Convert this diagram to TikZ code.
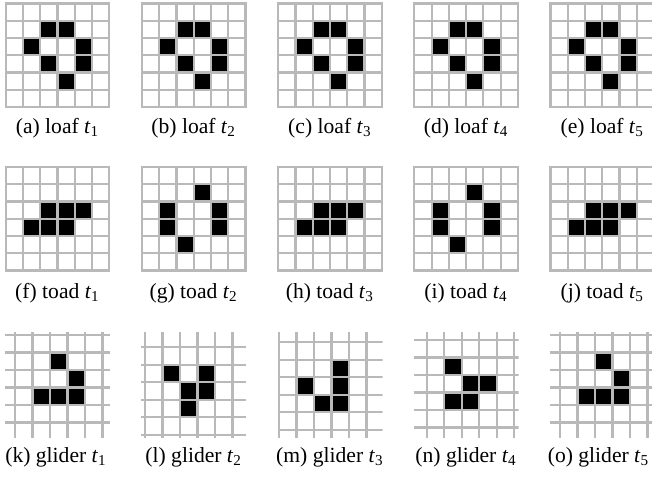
\documentclass[tikz,border=0pt]{standalone}
\usepackage{fontspec}
\setmainfont{Liberation Serif}
\newcommand\tsb[1]{\textit{t}\textsubscript{#1}}
\begin{document}
\begin{tikzpicture}[x=0.5pt,y=-0.5pt,
  gridline/.style={draw=gray!55, line width=1.1pt},
  alive/.style={fill=black},
  capt/.style={anchor=base, inner sep=0pt, font=\fontsize{10.8}{13}\selectfont}]
\useasboundingbox (0,0) rectangle (652,477);
\def\cs{17.25}
\def\gs{17.5}
\newcommand\boxgrid[3]{%
  \foreach \c/\r in {#3} \fill[alive] ({#1+\c*\cs},{#2+\r*\cs}) rectangle ++(\cs,\cs);
  \foreach \k in {1,...,5} {
    \draw[gridline] ({#1+\k*\cs},#2) -- ++(0,{6*\cs});
    \draw[gridline] (#1,{#2+\k*\cs}) -- ++({6*\cs},0);
  }
  \draw[gridline] (#1,#2) rectangle ++({6*\cs},{6*\cs});
}
\newcommand\opengrid[5]{%
  \begin{scope}
    \clip (#1,#2) rectangle ++(105,106);
    \foreach \c/\r in {#5} \fill[alive] ({#3+\c*\gs},{#4+\r*\gs}) rectangle ++(\gs,\gs);
    \foreach \k in {-1,...,6} {
      \draw[gridline] ({#3+\k*\gs},#2) -- ++(0,106);
      \draw[gridline] (#1,{#4+\k*\gs}) -- ++(105,0);
    }
  \end{scope}
}
% row 1: loaf
\foreach \i in {0,...,4} {
  \boxgrid{5.75+136.2*\i}{3.5}{2/1,3/1,1/2,4/2,2/3,4/3,3/4}
}
% row 2: toad
\boxgrid{5.75}{167}{2/2,3/2,4/2,1/3,2/3,3/3}
\boxgrid{141.95}{167}{3/1,1/2,4/2,1/3,4/3,2/4}
\boxgrid{278.15}{167}{2/2,3/2,4/2,1/3,2/3,3/3}
\boxgrid{414.35}{167}{3/1,1/2,4/2,1/3,4/3,2/4}
\boxgrid{550.55}{167}{2/2,3/2,4/2,1/3,2/3,3/3}
% row 3: glider
\opengrid{5}{332}{15}{335}{2/1,3/2,1/3,2/3,3/3}
\opengrid{141.2}{332}{145}{347.3}{1/1,3/1,2/2,3/2,2/3}
\opengrid{277.5}{332}{279}{342.3}{3/1,1/2,3/2,2/3,3/3}
\opengrid{413.7}{332}{426.7}{340}{1/1,2/2,3/2,1/3,2/3}
\opengrid{550}{332}{560}{335}{2/1,3/2,1/3,2/3,3/3}
% captions
\node[capt] (ca) at (57.5,133) {(a) loaf \tsb{1}};
\node[capt] (cb) at (193.7,133) {(b) loaf \tsb{2}};
\node[capt] (cc) at (329.9,133) {(c) loaf \tsb{3}};
\node[capt] (cd) at (466.1,133) {(d) loaf \tsb{4}};
\node[capt] (ce) at (602.3,133) {(e) loaf \tsb{5}};
\node[capt] (cf) at (57.5,298) {(f) toad \tsb{1}};
\node[capt] (cg) at (193.7,298) {(g) toad \tsb{2}};
\node[capt] (ch) at (329.9,298) {(h) toad \tsb{3}};
\node[capt] (ci) at (466.1,298) {(i) toad \tsb{4}};
\node[capt] (cj) at (602.3,298) {(j) toad \tsb{5}};
\node[capt] (ck) at (56,462) {(k) glider \tsb{1}};
\node[capt] (cl) at (193.7,462) {(l) glider \tsb{2}};
\node[capt] (cm) at (329.9,462) {(m) glider \tsb{3}};
\node[capt] (cn) at (466.1,462) {(n) glider \tsb{4}};
\node[capt] (co) at (598.5,462) {(o) glider \tsb{5}};
\end{tikzpicture}
\end{document}
